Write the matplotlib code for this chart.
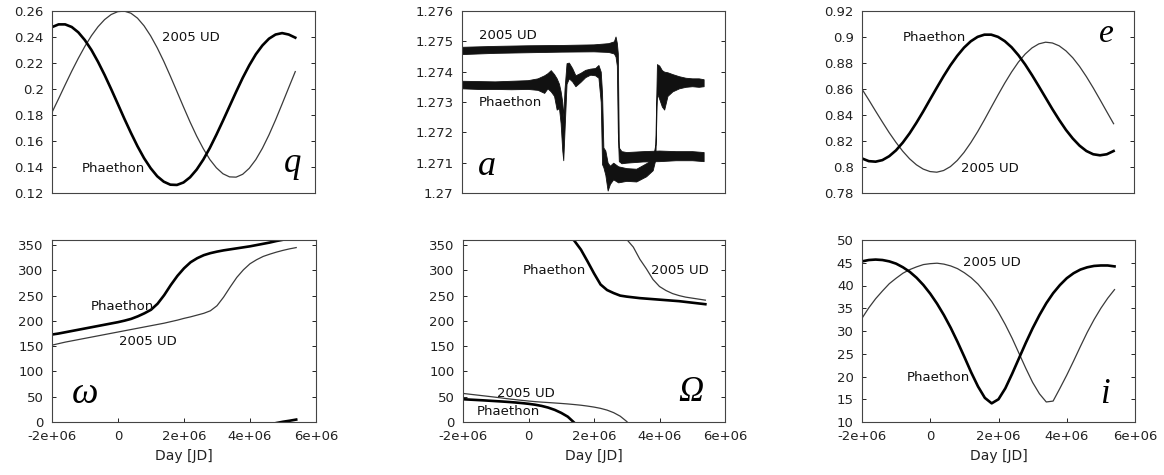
import numpy as np
import matplotlib
matplotlib.use('Agg')
import matplotlib.pyplot as plt
from matplotlib.ticker import FormatStrFormatter

# days in units of 1e6 JD
DAY = [-2.0, -1.8, -1.6, -1.4, -1.2, -1.0, -0.8, -0.6, -0.4, -0.2, 0.0,
       0.2, 0.4, 0.6, 0.8, 1.0, 1.2, 1.4, 1.6, 1.8, 2.0, 2.2, 2.4, 2.6,
       2.8, 3.0, 3.2, 3.4, 3.6, 3.8, 4.0, 4.2, 4.4, 4.6, 4.8, 5.0, 5.2, 5.4]

# perihelion distance q
q_phaethon = [0.2476, 0.2497, 0.2497, 0.2477, 0.2436, 0.2376, 0.2300, 0.2209, 0.2108, 0.1999,
              0.1886, 0.1772, 0.1663, 0.1560, 0.1468, 0.1391, 0.1329, 0.1287, 0.1264, 0.1262,
              0.1281, 0.1321, 0.1380, 0.1456, 0.1546, 0.1648, 0.1756, 0.1867, 0.1978, 0.2085,
              0.2182, 0.2267, 0.2335, 0.2387, 0.2419, 0.2430, 0.2419, 0.2395]
q_ud = [0.1820, 0.1925, 0.2032, 0.2137, 0.2236, 0.2328, 0.2410, 0.2479, 0.2534, 0.2573,
        0.2595, 0.2599, 0.2583, 0.2545, 0.2486, 0.2409, 0.2317, 0.2213, 0.2099, 0.1981,
        0.1862, 0.1746, 0.1638, 0.1542, 0.1458, 0.1394, 0.1348, 0.1324, 0.1322, 0.1344,
        0.1390, 0.1457, 0.1544, 0.1647, 0.1762, 0.1885, 0.2010, 0.2134]

# eccentricity e
e_phaethon = [0.8066, 0.8045, 0.8041, 0.8053, 0.8083, 0.8128, 0.8188, 0.8259, 0.8340, 0.8427,
              0.8519, 0.8610, 0.8699, 0.8782, 0.8855, 0.8918, 0.8967, 0.9001, 0.9018, 0.9018,
              0.9001, 0.8968, 0.8921, 0.8860, 0.8788, 0.8707, 0.8621, 0.8533, 0.8445, 0.8362,
              0.8285, 0.8219, 0.8164, 0.8123, 0.8098, 0.8090, 0.8098, 0.8123]
e_ud = [0.8599, 0.8516, 0.8430, 0.8346, 0.8264, 0.8189, 0.8121, 0.8063, 0.8017, 0.7984,
        0.7965, 0.7960, 0.7973, 0.8003, 0.8050, 0.8112, 0.8187, 0.8271, 0.8363, 0.8459,
        0.8554, 0.8646, 0.8731, 0.8807, 0.8869, 0.8916, 0.8947, 0.8960, 0.8954, 0.8932,
        0.8893, 0.8840, 0.8773, 0.8695, 0.8609, 0.8518, 0.8425, 0.8333]

# inclination i
i_phaethon = [45.3, 45.6, 45.7, 45.6, 45.3, 44.8, 44.0, 43.0, 41.7, 40.1,
              38.2, 36.0, 33.5, 30.7, 27.6, 24.3, 20.9, 17.8, 15.3, 14.1,
              15.0, 17.4, 20.6, 24.0, 27.4, 30.6, 33.5, 36.1, 38.3, 40.1,
              41.6, 42.7, 43.5, 44.0, 44.3, 44.4, 44.4, 44.2]
i_ud = [32.8, 35.1, 37.1, 38.8, 40.4, 41.6, 42.7, 43.5, 44.1, 44.6,
        44.8, 44.9, 44.7, 44.3, 43.7, 42.8, 41.7, 40.3, 38.5, 36.5,
        34.1, 31.4, 28.4, 25.1, 21.8, 18.7, 16.2, 14.4, 14.6, 17.4,
        20.3, 23.4, 26.6, 29.7, 32.5, 35.0, 37.2, 39.1]

# argument of perihelion (unwrapped, degrees)
w_phaethon = [173, 175, 177.5, 180, 182.5, 185, 187.5, 190, 192.5, 195,
              197.5, 200.5, 204, 209, 215, 222, 234, 251, 271, 289,
              304, 316, 324, 330, 334, 337, 339.5, 341.5, 343.5, 345.5,
              347.5, 350, 352.5, 355, 358, 360.5, 362.5, 364.8]
w_ud = [152, 155, 158, 160.5, 163, 165.5, 168, 170.5, 173, 175.5,
        178, 180.5, 183, 185.5, 188, 190.5, 193, 195.5, 198.5, 201.5,
        205, 208, 211.5, 215, 220, 230, 247, 267, 286, 301,
        313, 321, 327.5, 332, 336, 339.5, 342.5, 345]

# longitude of ascending node (unwrapped, degrees)
node_phaethon = [45, 44.3, 43.6, 42.9, 42.1, 41.3, 40.5, 39.6, 38.6, 37.4,
                 36.0, 34.2, 31.8, 28.5, 24.0, 18.0, 10.5, -1.5, -19, -42,
                 -66, -88, -99, -105, -110, -112, -113.5, -115, -116, -117,
                 -118, -119, -120, -121, -122.5, -124, -125.5, -127]
node_ud = [56.5, 55, 53.5, 52, 50.5, 49, 47.3, 45.7, 44.2, 42.8,
           41.5, 40.3, 39.3, 38.5, 37.6, 36.7, 35.7, 34.5, 33.2, 31.5,
           29.5, 27, 23.5, 18.5, 11.5, 1, -14, -38, -57, -78,
           -92, -100, -106, -110, -113, -115, -117, -119]

# semi-major axis a: noisy bands given as lower / upper envelopes
a_day_phaethon = [-2.0, -1.5, -1.0, -0.5, 0.0, 0.3, 0.5, 0.6, 0.7, 0.8, 0.88, 0.95, 1.0, 1.05,
                  1.08, 1.12, 1.18, 1.25, 1.35, 1.45, 1.6, 1.75, 1.9, 2.05, 2.15, 2.22, 2.26,
                  2.3, 2.36, 2.43, 2.5, 2.6, 2.75, 3.0, 3.3, 3.6, 3.8, 3.88, 3.93, 4.0, 4.08,
                  4.15, 4.25, 4.4, 4.6, 4.8, 5.0, 5.2, 5.35]
a_lo_phaethon = [1.27345, 1.27343, 1.27343, 1.27342, 1.27343, 1.27340, 1.27330, 1.27345, 1.27335,
                 1.27320, 1.27275, 1.27280, 1.27230, 1.27140, 1.27108, 1.27210, 1.27360, 1.27378,
                 1.27368, 1.27352, 1.27366, 1.27382, 1.27390, 1.27388, 1.27380, 1.27300, 1.27095,
                 1.27085, 1.27060, 1.27008, 1.27030, 1.27045, 1.27035, 1.27040, 1.27038, 1.27055,
                 1.27075, 1.27110, 1.27330, 1.27310, 1.27285, 1.27275, 1.27320, 1.27335, 1.27345,
                 1.27350, 1.27352, 1.27350, 1.27352]
a_hi_phaethon = [1.27370, 1.27369, 1.27368, 1.27370, 1.27372, 1.27378, 1.27388, 1.27395, 1.27405,
                 1.27392, 1.27378, 1.27360, 1.27335, 1.27300, 1.27250, 1.27345, 1.27428, 1.27430,
                 1.27412, 1.27388, 1.27396, 1.27406, 1.27410, 1.27412, 1.27422, 1.27400, 1.27330,
                 1.27150, 1.27140, 1.27100, 1.27090, 1.27100, 1.27088, 1.27082, 1.27080, 1.27098,
                 1.27112, 1.27160, 1.27425, 1.27420, 1.27405, 1.27400, 1.27398, 1.27392, 1.27385,
                 1.27380, 1.27378, 1.27378, 1.27375]
a_day_ud = [-2.0, -1.0, 0.0, 1.0, 2.0, 2.45, 2.62, 2.67, 2.71, 2.74, 2.77, 2.85, 3.0, 3.5,
            4.0, 4.5, 5.0, 5.35]
a_lo_ud = [1.27458, 1.27462, 1.27464, 1.27466, 1.27467, 1.27465, 1.27460, 1.27450, 1.27420,
           1.27200, 1.27105, 1.27098, 1.27100, 1.27104, 1.27105, 1.27108, 1.27108, 1.27105]
a_hi_ud = [1.27482, 1.27485, 1.27487, 1.27488, 1.27490, 1.27494, 1.27500, 1.27516, 1.27495,
           1.27460, 1.27150, 1.27138, 1.27135, 1.27138, 1.27140, 1.27138, 1.27138, 1.27135]

x_ticks = [-2e6, 0, 2e6, 4e6, 6e6]
q_ticks = [0.12, 0.14, 0.16, 0.18, 0.2, 0.22, 0.24, 0.26]
a_ticks = [1.27, 1.271, 1.272, 1.273, 1.274, 1.275, 1.276]
e_ticks = [0.78, 0.8, 0.82, 0.84, 0.86, 0.88, 0.9, 0.92]
ang_ticks = [0, 50, 100, 150, 200, 250, 300, 350]
i_ticks = [10, 15, 20, 25, 30, 35, 40, 45, 50]

plt.rcParams['font.family'] = 'DejaVu Sans'
W, H = 1164, 475
fig = plt.figure(figsize=(W / 100, H / 100), dpi=100)

def add_ax(left, top, w, h):
    return fig.add_axes([left / W, 1 - (top + h) / H, w / W, h / H])

def style(ax, yticks, ylim, bottom_row):
    ax.set_xlim(-2e6, 6e6)
    ax.set_ylim(*ylim)
    ax.set_yticks(yticks)
    ax.yaxis.set_major_formatter(FormatStrFormatter('%g'))
    ax.tick_params(axis='y', direction='in', right=True, length=3, width=0.7,
                   labelsize=9.5, pad=6, colors='#222')
    if bottom_row:
        ax.set_xticks(x_ticks)
        ax.xaxis.set_major_formatter(FormatStrFormatter('%g'))
        ax.tick_params(axis='x', direction='in', length=3, width=0.7,
                       labelsize=9.5, pad=6, colors='#222')
        ax.set_xlabel('Day [JD]', fontsize=10, labelpad=4, color='#222')
    else:
        ax.set_xticks([])
    for s in ax.spines.values():
        s.set_linewidth(0.8)
        s.set_color('#444')

def label(ax, x, y, txt):
    ax.text(x, y, txt, transform=ax.transAxes, fontsize=9.5, ha='left', va='center', color='#111')

def symbol(ax, x, y, txt, size=24, ha='left'):
    ax.text(x, y, txt, transform=ax.transAxes, fontsize=size, fontstyle='italic',
            family=['Liberation Serif', 'DejaVu Serif'], ha=ha, va='baseline')

days = np.array(DAY) * 1e6
THICK = dict(color='black', lw=1.9)
THIN = dict(color='#3a3a3a', lw=0.9)

# q
ax = add_ax(52, 11, 263, 182)
ax.plot(days, q_ud, **THIN)
ax.plot(days, q_phaethon, **THICK)
style(ax, q_ticks, (0.12, 0.26), False)
label(ax, 0.418, 0.857, '2005 UD')
label(ax, 0.114, 0.137, 'Phaethon')
symbol(ax, 0.916, 0.115, 'q', 25, ha='center')

# a
ax = add_ax(462, 11, 263, 182)
ax.fill_between(np.array(a_day_ud) * 1e6, a_lo_ud, a_hi_ud, color='#111', lw=0.6)
ax.fill_between(np.array(a_day_phaethon) * 1e6, a_lo_phaethon, a_hi_phaethon, color='#111', lw=0.6)
style(ax, a_ticks, (1.27, 1.276), False)
label(ax, 0.065, 0.868, '2005 UD')
label(ax, 0.065, 0.5, 'Phaethon')
symbol(ax, 0.061, 0.099, 'a', 26)

# e
ax = add_ax(862, 11, 272, 182)
ax.plot(days, e_ud, **THIN)
ax.plot(days, e_phaethon, **THICK)
style(ax, e_ticks, (0.78, 0.92), False)
label(ax, 0.151, 0.857, 'Phaethon')
label(ax, 0.364, 0.137, '2005 UD')
symbol(ax, 0.90, 0.83, 'e', 24, ha='center')

# omega
ax = add_ax(52, 240, 264, 182)
for shift in (0, -360):
    ax.plot(days, np.array(w_ud) + shift, **THIN)
    ax.plot(days, np.array(w_phaethon) + shift, **THICK)
style(ax, ang_ticks, (0, 360), True)
label(ax, 0.148, 0.637, 'Phaethon')
label(ax, 0.254, 0.445, '2005 UD')
symbol(ax, 0.076, 0.104, 'ω', 27)

# Omega
ax = add_ax(463, 240, 262, 182)
for shift in (0, 360):
    ax.plot(days, np.array(node_ud) + shift, **THIN)
    ax.plot(days, np.array(node_phaethon) + shift, **THICK)
style(ax, ang_ticks, (0, 360), True)
label(ax, 0.229, 0.830, 'Phaethon')
label(ax, 0.718, 0.830, '2005 UD')
label(ax, 0.130, 0.159, '2005 UD')
label(ax, 0.053, 0.055, 'Phaethon')
symbol(ax, 0.821, 0.115, 'Ω', 25)

# i
ax = add_ax(862, 240, 273, 182)
ax.plot(days, i_ud, **THIN)
ax.plot(days, i_phaethon, **THICK)
style(ax, i_ticks, (10, 50), True)
label(ax, 0.37, 0.879, '2005 UD')
label(ax, 0.165, 0.247, 'Phaethon')
symbol(ax, 0.89, 0.104, 'i', 25, ha='center')

fig.savefig('out.png', dpi=100)
